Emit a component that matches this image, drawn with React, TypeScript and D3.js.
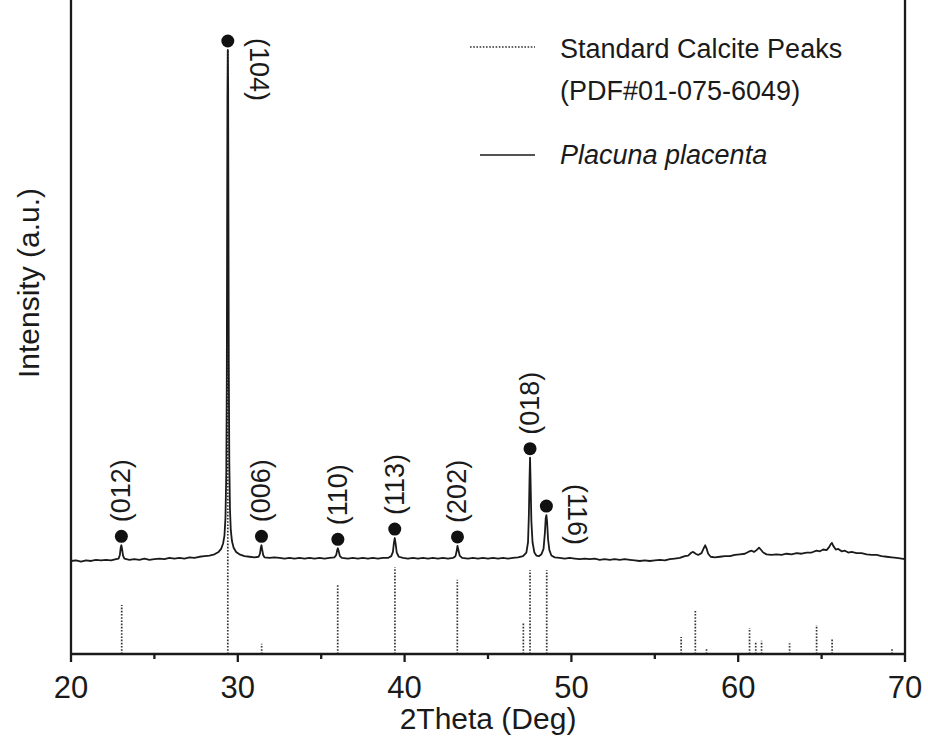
import React from "react";
import * as d3 from "d3";

// ---------- data ----------
const xTicks = [20, 30, 40, 50, 60, 70];
const xMinorTicks = [25, 35, 45, 55, 65];

// measured XRD pattern of Placuna placenta: [2theta, intensity (a.u.)]
const pattern: [number, number][] = [
  [20.0, 15.4], [20.3, 15.5], [20.6, 15.3], [20.9, 15.5], [21.2, 15.4], [21.5, 15.6], [21.8, 15.5],
  [22.1, 15.6], [22.4, 15.5], [22.7, 15.7], [22.85, 15.8], [22.93, 16.4], [22.98, 17.6], [23.02, 18.0],
  [23.06, 17.4], [23.12, 16.3], [23.2, 15.8], [23.5, 15.6], [23.8, 15.7], [24.1, 15.6], [24.4, 15.8],
  [24.7, 15.6], [25.0, 15.7], [25.3, 15.8], [25.6, 15.7], [25.9, 15.9], [26.2, 15.8], [26.5, 15.9],
  [26.8, 15.8], [27.1, 16.0], [27.4, 15.9], [27.7, 16.1], [28.0, 16.2], [28.3, 16.3], [28.6, 16.5],
  [28.85, 16.9], [29.0, 17.4], [29.12, 18.3], [29.2, 19.6], [29.26, 22.5], [29.31, 30], [29.34, 45],
  [29.36, 70], [29.38, 92], [29.4, 100], [29.42, 94], [29.44, 72], [29.46, 48], [29.49, 32],
  [29.53, 24], [29.58, 20.5], [29.65, 18.7], [29.75, 17.6], [29.9, 16.9], [30.1, 16.5], [30.4, 16.2],
  [30.7, 16.1], [31.0, 16.0], [31.25, 16.1], [31.33, 16.6], [31.38, 17.6], [31.42, 18.0], [31.46, 17.3],
  [31.52, 16.4], [31.6, 16.0], [31.9, 15.9], [32.2, 16.0], [32.5, 15.9], [32.8, 15.8], [33.1, 15.9],
  [33.4, 15.8], [33.7, 15.9], [34.0, 15.8], [34.3, 15.9], [34.6, 15.8], [34.9, 15.9], [35.2, 15.8],
  [35.5, 15.9], [35.8, 16.0], [35.9, 16.4], [35.96, 17.2], [36.0, 17.5], [36.05, 17.0], [36.12, 16.2],
  [36.25, 15.9], [36.6, 15.8], [36.9, 15.9], [37.2, 15.8], [37.5, 15.9], [37.8, 15.8], [38.1, 15.9],
  [38.4, 15.8], [38.7, 15.9], [39.0, 15.9], [39.2, 16.2], [39.3, 16.9], [39.36, 18.4], [39.41, 19.2],
  [39.46, 18.3], [39.53, 16.8], [39.65, 16.1], [39.9, 15.9], [40.2, 15.8], [40.5, 15.9], [40.8, 15.8],
  [41.1, 15.9], [41.4, 15.8], [41.7, 15.9], [42.0, 15.8], [42.3, 15.9], [42.6, 15.8], [42.9, 15.9],
  [43.05, 16.2], [43.12, 17.0], [43.17, 17.9], [43.22, 17.3], [43.3, 16.3], [43.45, 15.9], [43.8, 15.8],
  [44.1, 15.9], [44.4, 15.8], [44.7, 15.9], [45.0, 15.8], [45.3, 15.9], [45.6, 15.8], [45.9, 15.9],
  [46.2, 15.8], [46.5, 15.9], [46.8, 16.0], [47.1, 16.2], [47.3, 16.8], [47.4, 18.5], [47.45, 23],
  [47.49, 29], [47.52, 32.5], [47.55, 29], [47.6, 22], [47.67, 18.5], [47.78, 16.8], [47.9, 16.3],
  [48.05, 16.2], [48.2, 16.5], [48.33, 17.4], [48.41, 20], [48.46, 22.5], [48.5, 23.0], [48.54, 22],
  [48.6, 19], [48.68, 17.2], [48.8, 16.3], [49.0, 16.0], [49.3, 15.9], [49.6, 15.8], [49.9, 15.9],
  [50.2, 15.8], [50.5, 15.7], [50.8, 15.8], [51.1, 15.7], [51.4, 15.8], [51.7, 15.6], [52.0, 15.7],
  [52.3, 15.6], [52.6, 15.7], [52.9, 15.6], [53.2, 15.7], [53.5, 15.6], [53.8, 15.5], [54.1, 15.4],
  [54.4, 15.5], [54.7, 15.4], [55.0, 15.5], [55.3, 15.6], [55.6, 15.5], [55.9, 15.7], [56.2, 15.8],
  [56.5, 15.9], [56.8, 16.2], [57.0, 16.3], [57.2, 16.8], [57.3, 16.9], [57.45, 16.6], [57.6, 16.4],
  [57.8, 16.7], [57.95, 17.6], [58.02, 18.0], [58.1, 17.5], [58.2, 16.6], [58.35, 16.1], [58.6, 16.0],
  [58.9, 16.1], [59.2, 16.2], [59.5, 16.2], [59.8, 16.4], [60.1, 16.5], [60.4, 16.6], [60.6, 16.9],
  [60.8, 17.1], [60.95, 16.9], [61.1, 17.2], [61.25, 17.6], [61.35, 17.3], [61.5, 16.8], [61.7, 16.5],
  [62.0, 16.4], [62.3, 16.5], [62.6, 16.4], [62.9, 16.6], [63.2, 16.5], [63.5, 16.7], [63.8, 16.6],
  [64.1, 16.8], [64.4, 16.8], [64.7, 17.1], [64.9, 17.0], [65.1, 17.3], [65.3, 17.2], [65.45, 17.7],
  [65.55, 18.2], [65.62, 18.4], [65.7, 17.9], [65.85, 17.3], [66.0, 17.4], [66.2, 17.0], [66.4, 17.1],
  [66.6, 16.8], [66.8, 16.9], [67.1, 16.7], [67.4, 16.7], [67.7, 16.5], [68.0, 16.4], [68.3, 16.4],
  [68.6, 16.2], [68.9, 16.1], [69.2, 16.0], [69.5, 15.9], [69.8, 15.8], [70.0, 15.7],
];

// standard calcite reference peaks (PDF#01-075-6049)
const stdTheta = [23.04, 29.4, 31.43, 35.99, 39.42, 43.16, 47.12, 47.52, 48.52, 56.58, 57.43, 58.1, 60.68, 61.05, 61.4, 63.08, 64.7, 65.63, 69.22];
const stdIntensity = [8.1, 100, 1.7, 11.4, 14.4, 12.3, 5.3, 13.9, 13.9, 2.8, 7.1, 1.0, 4.3, 2.0, 2.2, 1.8, 4.8, 2.6, 1.0];

// indexed peaks
const peakHkl = ["(012)", "(104)", "(006)", "(110)", "(113)", "(202)", "(018)", "(116)"];
const peakTheta = [23.02, 29.4, 31.42, 36.0, 39.41, 43.17, 47.52, 48.5];
const peakIntensity = [18.0, 100, 18.0, 17.5, 19.2, 17.9, 32.5, 23.0];

const legendLabels = ["Standard Calcite Peaks", "(PDF#01-075-6049)", "Placuna placenta"];

// ---------- layout ----------
const W = 928, H = 742;
const left = 71, right = 905, bottom = 654, top = 50;
const FONT = "'Liberation Sans', Arial, Helvetica, sans-serif";
const INK = "#1a1a1a";

// label placement (style): rotation & offsets relative to the marker dot
const labelLayout: Record<string, { rot: number; dx: number; dy: number }> = {
  "(104)": { rot: 90, dx: 31, dy: -3 },
  "(116)": { rot: 90, dx: 31, dy: -22 },
};

export default function App() {
  const x = d3.scaleLinear().domain([20, 70]).range([left, right]);
  const y = d3.scaleLinear().domain([0, 100]).range([bottom, top]);
  const line = d3
    .line<[number, number]>()
    .x((d) => x(d[0]))
    .y((d) => y(d[1]));

  return (
    <svg
      width={W}
      height={H}
      viewBox={`0 0 ${W} ${H}`}
      style={{ position: "absolute", left: 0, top: 0, background: "#fff" }}
      fontFamily={FONT}
    >
      <rect x={0} y={0} width={W} height={H} fill="#fff" />

      {/* standard peaks */}
      <g stroke="#333" strokeWidth={1.7} strokeDasharray="1.6 1.6">
        {stdTheta.map((t, i) => (
          <line key={i} x1={x(t)} x2={x(t)} y1={bottom} y2={y(stdIntensity[i])} />
        ))}
      </g>

      {/* measured pattern */}
      <path d={line(pattern) || ""} fill="none" stroke={INK} strokeWidth={1.8} strokeLinejoin="round" />

      {/* peak markers and labels */}
      {peakHkl.map((h, i) => {
        const px = x(peakTheta[i]);
        const dy = y(peakIntensity[i]) - 9;
        const lay = labelLayout[h] || { rot: -90, dx: 0, dy: -14 };
        const lx = px + lay.dx;
        const ly = dy + lay.dy;
        return (
          <g key={h}>
            <circle cx={px} cy={dy} r={6.5} fill="#111" />
            <text
              x={lx}
              y={ly}
              transform={`rotate(${lay.rot},${lx},${ly})`}
              fontSize={27}
              fill={INK}
              textAnchor="start"
              dominantBaseline="central"
            >
              {h}
            </text>
          </g>
        );
      })}

      {/* axes */}
      <g stroke={INK} strokeWidth={2.3} fill="none">
        <line x1={left} x2={left} y1={0} y2={bottom} />
        <line x1={right} x2={right} y1={0} y2={bottom} />
        <line x1={left - 1} x2={right + 1} y1={bottom} y2={bottom} />
        {xTicks.map((t) => (
          <line key={t} x1={x(t)} x2={x(t)} y1={bottom} y2={bottom + 8} />
        ))}
        {xMinorTicks.map((t) => (
          <line key={t} x1={x(t)} x2={x(t)} y1={bottom} y2={bottom + 5} />
        ))}
      </g>
      {xTicks.map((t) => (
        <text key={t} x={x(t)} y={698} fontSize={31} textAnchor="middle" fill={INK}>
          {t}
        </text>
      ))}
      <text x={(left + right) / 2} y={729} fontSize={30} textAnchor="middle" fill={INK}>
        2Theta (Deg)
      </text>
      <text
        x={39}
        y={283}
        transform="rotate(-90,39,283)"
        fontSize={30}
        textAnchor="middle"
        fill={INK}
      >
        Intensity (a.u.)
      </text>

      {/* legend */}
      <line x1={470} x2={535} y1={47} y2={47} stroke="#333" strokeWidth={1.7} strokeDasharray="1.6 1.6" />
      <text x={560} y={58} fontSize={27} fill={INK}>{legendLabels[0]}</text>
      <text x={560} y={100} fontSize={27} fill={INK}>{legendLabels[1]}</text>
      <line x1={480} x2={535} y1={155} y2={155} stroke={INK} strokeWidth={1.7} />
      <text x={560} y={164} fontSize={27} fontStyle="italic" fill={INK}>{legendLabels[2]}</text>
    </svg>
  );
}
